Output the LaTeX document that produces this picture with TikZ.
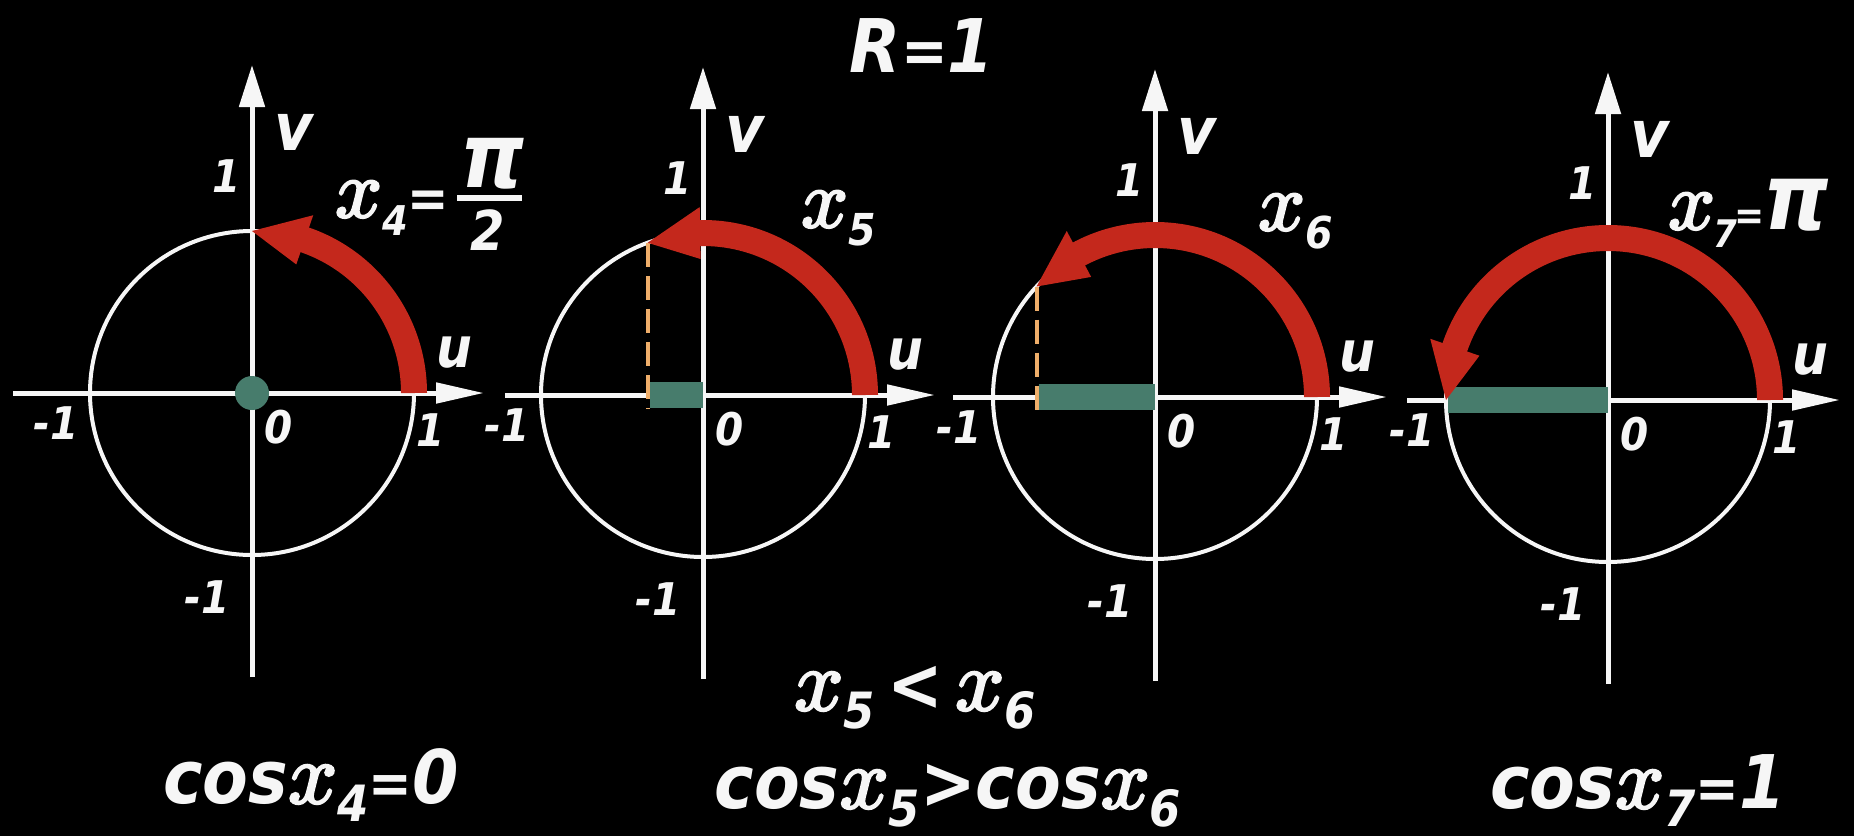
\documentclass[tikz,border=0pt]{standalone}
\usepackage{fontspec}
\usepackage{graphicx}
\setmainfont{DejaVu Sans Condensed}[ItalicFont={DejaVu Sans Condensed Oblique},BoldFont={DejaVu Sans Condensed Bold},BoldItalicFont={DejaVu Sans Condensed Bold Oblique}]
\newfontfamily\mx{latinmodern-math.otf}[FakeBold=3]
\usetikzlibrary{arrows.meta}
\definecolor{arcred}{HTML}{C4281C}
\definecolor{bargreen}{HTML}{477C6C}
\definecolor{dashorange}{HTML}{EFAE6A}
\definecolor{chalk}{HTML}{F6F6F6}
\newcommand\ex[1]{{\mx\fontsize{#1}{#1}\selectfont 𝑥}}
\newcommand\lo[3]{\raisebox{-#1pt}{\fontsize{#2}{#2}\selectfont #3}}
\newcommand\sz[2]{{\fontsize{#1}{#1}\selectfont #2}}
\newcommand\drawaxes[2]{%
  \coordinate (#1o) at (0,0);
  \coordinate (#1l) at (-#2,0);
  \coordinate (#1r) at (232,0);
  \coordinate (#1b) at (0,284);
  \coordinate (#1t) at (0,-328);
  \draw[haxis] (#1l) -- (#1r);
  \draw[vaxis] (#1b) -- (#1t);
  \draw[circ] (#1o) circle[radius=162];
  \node[al,font=\fontsize{66}{66}\selectfont\bfseries\itshape] (#1v) at (42,-261) {v};
  \node[al] (#1one) at (-25,-217) {1};
  \node[al,font=\fontsize{56}{56}\selectfont\bfseries\itshape] (#1u) at (202,-40) {u};
  \node[al] (#1ml) at (-196,30) {-1};
  \node[al] (#1z) at (27,34) {0};
  \node[al] (#1pr) at (179,37) {1};
  \node[al] (#1md) at (-45,204) {-1};
}
\newcommand\drawarc[2]{%
  \pgfmathsetmacro\hb{-(#2-19)}%
  \pgfmathsetmacro\ae{-(#2-18)}%
  \pgfmathsetmacro\tp{-(#2)}%
  \coordinate (#1a0) at (0:162);
  \coordinate (#1tip) at (\tp:162);
  \coordinate (#1bo) at (\hb:188);
  \coordinate (#1bi) at (\hb:136);
  \draw[rarc] (#1a0) arc[start angle=0, end angle=\ae, radius=162];
  \fill[arcred] (#1tip) -- (#1bo) -- (#1bi) -- cycle;
}
\newcommand\drawproj[2]{%
  \pgfmathsetmacro\cx{162*cos(#2)}%
  \pgfmathsetmacro\tp{-(#2)}%
  \coordinate (#1p) at (\tp:162);
  \coordinate (#1f) at (\cx,14);
  \coordinate (#1g) at (\cx+2,0);
  \draw[gbar] (#1g) -- (#1o);
  \draw[dsh] (#1p) -- (#1f);
}
\begin{document}
\begin{tikzpicture}[x=1pt,y=-1pt,
  haxis/.style={draw=chalk, line width=5pt, -{Triangle[length=48pt,width=20pt]}},
  vaxis/.style={draw=chalk, line width=5pt, -{Triangle[length=42pt,width=25pt]}},
  circ/.style={draw=chalk, line width=4pt},
  al/.style={text=chalk, inner sep=0pt, font=\fontsize{45}{45}\selectfont\bfseries\itshape},
  bl/.style={text=chalk, inner sep=0pt, font=\fontsize{74}{74}\selectfont\bfseries\itshape},
  rarc/.style={draw=arcred, line width=26pt},
  gbar/.style={draw=bargreen, line width=26pt},
  dsh/.style={draw=dashorange, line width=4pt, dash pattern=on 24pt off 9pt}]
\fill[black] (0,0) rectangle (1854,836);
\useasboundingbox (0,0) rectangle (1854,836);

\node[bl, anchor=base] (R) at (922,72) {R\sz{62}{=}1};

% panel 1
\begin{scope}[shift={(252,393)}]
  \drawaxes{a}{239}
  \fill[bargreen] (ao) circle[radius=17];
  \drawarc{a}{90}
\end{scope}
\node[al, anchor=base west] (x4) at (335,217) {\ex{82}\lo{18}{41}{4}\sz{55}{=}};
\node[al, font=\fontsize{90}{90}\selectfont\bfseries\itshape, anchor=base] (pi4) at (493,187) {π};
\node[al, font=\fontsize{55}{55}\selectfont\bfseries\itshape, anchor=base] (two4) at (488,250) {2};
\coordinate (fb1) at (457,198);
\coordinate (fb2) at (522,198);
\draw[chalk, line width=6pt] (fb1) -- (fb2);

% panel 2
\begin{scope}[shift={(703,395)}]
  \drawaxes{b}{198}
  \drawproj{b}{110}
  \drawarc{b}{110}
\end{scope}
\node[al, anchor=base west] (x5) at (801,227) {\ex{82}\lo{18}{44}{5}};

% panel 3
\begin{scope}[shift={(1155,397)}]
  \drawaxes{c}{202}
  \drawproj{c}{137}
  \drawarc{c}{137}
\end{scope}
\node[al, anchor=base west] (x6) at (1258,230) {\ex{82}\lo{18}{44}{6}};

% panel 4
\begin{scope}[shift={(1608,400)}]
  \drawaxes{d}{201}
  \coordinate (dg) at (-160,0);
  \draw[gbar] (dg) -- (do);
  \drawarc{d}{180}
\end{scope}
\node[al, anchor=base west] (x7) at (1668,229) {\ex{82}\kern-2pt\lo{18}{38}{7}\kern-2pt\sz{40}{=}\kern-2pt\sz{92}{π}};

% bottom texts
\node[bl, anchor=base] (ineq) at (915,710) {\ex{86}\lo{18}{50}{5}\,<\,\ex{86}\lo{18}{50}{6}};
\node[bl, anchor=base] (c4) at (311,803) {cos\ex{86}\lo{18}{50}{4}\sz{58}{=}0};
\node[bl, anchor=base] (c56) at (948,808) {cos\ex{86}\lo{18}{50}{5}>cos\ex{86}\lo{18}{50}{6}};
\node[bl, anchor=base] (c7) at (1638,808) {cos\ex{86}\lo{18}{50}{7}\sz{58}{=}1};
\end{tikzpicture}
\end{document}
